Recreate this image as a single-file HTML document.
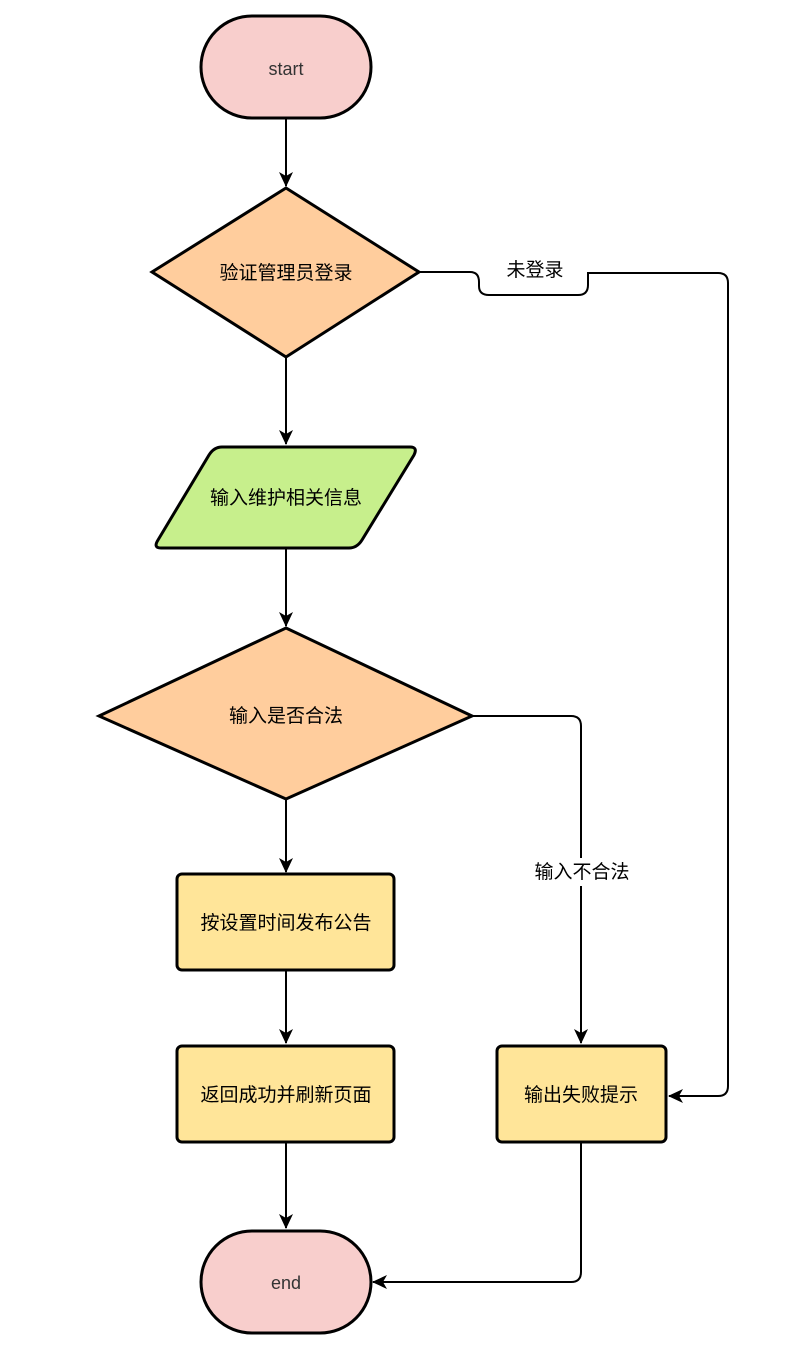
<!DOCTYPE html>
<html><head><meta charset="utf-8"><style>
html,body{margin:0;padding:0;background:#fff;}
svg{display:block;}
text{font-family:"Liberation Sans","Noto Sans CJK SC",sans-serif;font-size:19px;fill:#000;}
</style></head><body>
<svg width="788" height="1356" viewBox="0 0 788 1356" xmlns="http://www.w3.org/2000/svg">
<defs>
<marker id="a" markerWidth="16" markerHeight="16" refX="14" refY="8" orient="auto" markerUnits="userSpaceOnUse">
<path d="M0,1 L15,8 L0,15 L4,8 Z" fill="#000"/>
</marker>
</defs>
<g fill="none" stroke="#000" stroke-width="2">
<path d="M286,118 V186" marker-end="url(#a)"/>
<path d="M286,357 V444" marker-end="url(#a)"/>
<path d="M286,548 V626" marker-end="url(#a)"/>
<path d="M286,799 V872" marker-end="url(#a)"/>
<path d="M286,970 V1043" marker-end="url(#a)"/>
<path d="M286,1142 V1228" marker-end="url(#a)"/>
<path d="M472,716 H571 Q581,716 581,726 V1043" marker-end="url(#a)"/>
<path d="M581,1142 V1272 Q581,1282 571,1282 H373" marker-end="url(#a)"/>
<path d="M419,272 H470 Q479,272 479,282 V286 Q479,295 489,295 H578 Q588,295 588,285 V273 H718 Q728,273 728,283 V1086 Q728,1096 718,1096 H669" marker-end="url(#a)"/>
</g>
<rect x="494" y="256" width="82" height="28" fill="#fff"/>
<text x="535" y="276" text-anchor="middle">未登录</text>
<rect x="528" y="858" width="108" height="28" fill="#fff"/>
<text x="582" y="878" text-anchor="middle">输入不合法</text>
<g stroke="#000" stroke-width="3">
<rect x="201" y="16" width="170" height="102" rx="51" fill="#f8cecc"/>
<polygon points="286,188 419,272 286,357 152,272" fill="#ffcd9d"/>
<path d="M222,447 H410 Q418,447 414,455 L362,540 Q357,548 349,548 H161 Q153,548 158,540 L209,455 Q214,447 222,447 Z" fill="#c7ef8c"/>
<polygon points="286,628 472,716 286,799 99,716" fill="#ffcd9d"/>
<rect x="177" y="874" width="217" height="96" rx="5" fill="#ffe599"/>
<rect x="177" y="1046" width="217" height="96" rx="5" fill="#ffe599"/>
<rect x="497" y="1046" width="169" height="96" rx="5" fill="#ffe599"/>
<rect x="201" y="1231" width="170" height="102" rx="51" fill="#f8cecc"/>
</g>
<text x="286" y="75" text-anchor="middle" style="font-size:18px;fill:#333">start</text>
<text x="286" y="279" text-anchor="middle">验证管理员登录</text>
<text x="286" y="504" text-anchor="middle">输入维护相关信息</text>
<text x="286" y="722" text-anchor="middle">输入是否合法</text>
<text x="286" y="929" text-anchor="middle">按设置时间发布公告</text>
<text x="286" y="1101" text-anchor="middle">返回成功并刷新页面</text>
<text x="581" y="1101" text-anchor="middle">输出失败提示</text>
<text x="286" y="1289" text-anchor="middle" style="font-size:18px;fill:#333">end</text>
</svg>
</body></html>
